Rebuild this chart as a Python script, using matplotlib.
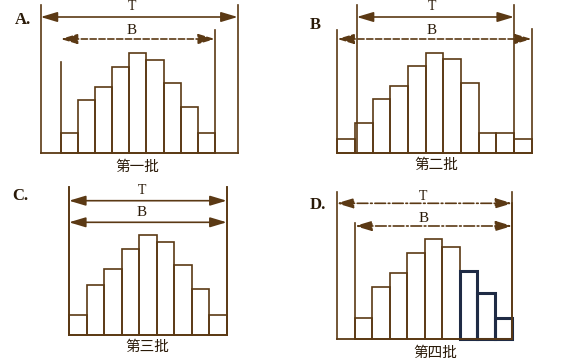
import numpy as np
import matplotlib.pyplot as plt

plt.rcParams['font.family'] = ['Noto Sans CJK SC', 'DejaVu Sans']

# panel captions and batch names
panel_letters = ['A.', 'B', 'C.', 'D.']
batch_names = ['第一批', '第二批', '第三批', '第四批']

# histogram frequencies of each batch
freq_a = [6, 16, 20, 26, 30, 28, 21, 14, 6]
freq_b = [4, 9, 16, 20, 26, 30, 28, 21, 6, 6, 4]
freq_c = [6, 15, 20, 26, 30, 28, 21, 14, 6]
freq_d = [6.5, 15.6, 20, 26, 30, 27.6, 20.6, 13.8, 6.5]

# tolerance range T and actual spread B, in bin units
tol_t = [(-1.17, 10.32), (1.1, 10.0), (0, 9), (-1.05, 9)]
spread_b = [(0, 9), (0, 11), (0, 9), (0, 9)]

W, H = 563, 364
brown = '#5b3914'
navy = '#1f2b45'

fig = plt.figure(figsize=(W / 100, H / 100), dpi=100)


def panel(x0, base, sx, sy=3.33):
    # transparent axes over the whole figure, data scaled so bins are sx px wide
    ax = fig.add_axes([0, 0, 1, 1])
    ax.set_xlim(-x0 / sx, (W - x0) / sx)
    ax.set_ylim(-(H - base) / sy, base / sy)
    ax.axis('off')
    ax.patch.set_alpha(0)
    return ax


def arrow(ax, lo, hi, y, ls='-'):
    ax.annotate('', xy=(hi, y), xytext=(lo, y),
                arrowprops=dict(arrowstyle='<|-|>,head_length=1.0,head_width=0.3',
                                color=brown, lw=1.2, ls=ls,
                                shrinkA=0, shrinkB=0))


def ftext(x, y, s, **kw):
    fig.text(x / W, 1 - y / H, s, ha='center', va='center', color='#2a1a08', **kw)


# layout: (left edge px, baseline px, bin width px)
layout = [(60.7, 153.3, 17.15), (337.3, 152.7, 17.67),
          (69.0, 335.3, 17.52), (355.0, 339.3, 17.48)]
freqs = [freq_a, freq_b, freq_c, freq_d]
# y px of T arrow, B arrow, T line top, B line tops
arrow_y = [(17, 39, 5, (62, 30)), (17, 39, 5, (30, 29)),
           (200.7, 222.3, 186.7, (186.7, 186.7)), (203.3, 226, 191.7, (222.7, 203.3))]
b_style = ['--', '--', '-', '-.']
t_style = ['-', '-', '-', '-.']
letter_pos = [(23, 20), (315, 25), (20, 196), (318, 205)]
tb_label_pos = [((131.7, 7), (131.7, 30)), ((431.7, 7), (431.7, 31)),
                ((141.7, 190), (141.7, 212)), ((423.3, 197), (424, 218))]
name_pos = [(137.5, 167), (436, 165), (147, 347), (435, 353)]

for i in range(4):
    x0, base, sx = layout[i]
    ax = panel(x0, base, sx)
    sy = 3.33
    f = np.array(freqs[i], dtype=float)
    n = len(f)
    colors = [brown] * n
    widths = [1.2] * n
    if i == 3:
        for k in range(6, 9):
            colors[k] = navy
            widths[k] = 2.2
    for k in range(n):
        ax.bar(k, f[k], width=1, align='edge', fill=False,
               edgecolor=colors[k], lw=widths[k])
    tlo, thi = tol_t[i]
    blo, bhi = spread_b[i]
    ya_t, ya_b, top_t, tops_b = arrow_y[i]
    to_d = lambda p: (base - p) / sy
    # baseline
    ax.plot([min(tlo, 0), max(thi, n)], [0, 0], color=brown, lw=1.3)
    # limit lines
    ax.plot([tlo, tlo], [0, to_d(top_t)], color=brown, lw=1.2)
    ax.plot([thi, thi], [0, to_d(top_t)], color=brown, lw=1.2)
    ax.plot([blo, blo], [0, to_d(tops_b[0])], color=brown, lw=1.2)
    ax.plot([bhi, bhi], [0, to_d(tops_b[1])], color=brown, lw=1.2)
    arrow(ax, tlo, thi, to_d(ya_t), ls=t_style[i])
    arrow(ax, blo, bhi, to_d(ya_b), ls=b_style[i])

    ftext(*letter_pos[i], panel_letters[i], fontsize=12, fontweight='bold',
          family=['Liberation Serif'])
    ftext(*tb_label_pos[i][0], 'T', fontsize=10, family=['Liberation Serif'])
    ftext(*tb_label_pos[i][1], 'B', fontsize=11, family=['Liberation Serif'])
    ftext(*name_pos[i], batch_names[i], fontsize=10.5)

fig.savefig('out.png', dpi=100)
